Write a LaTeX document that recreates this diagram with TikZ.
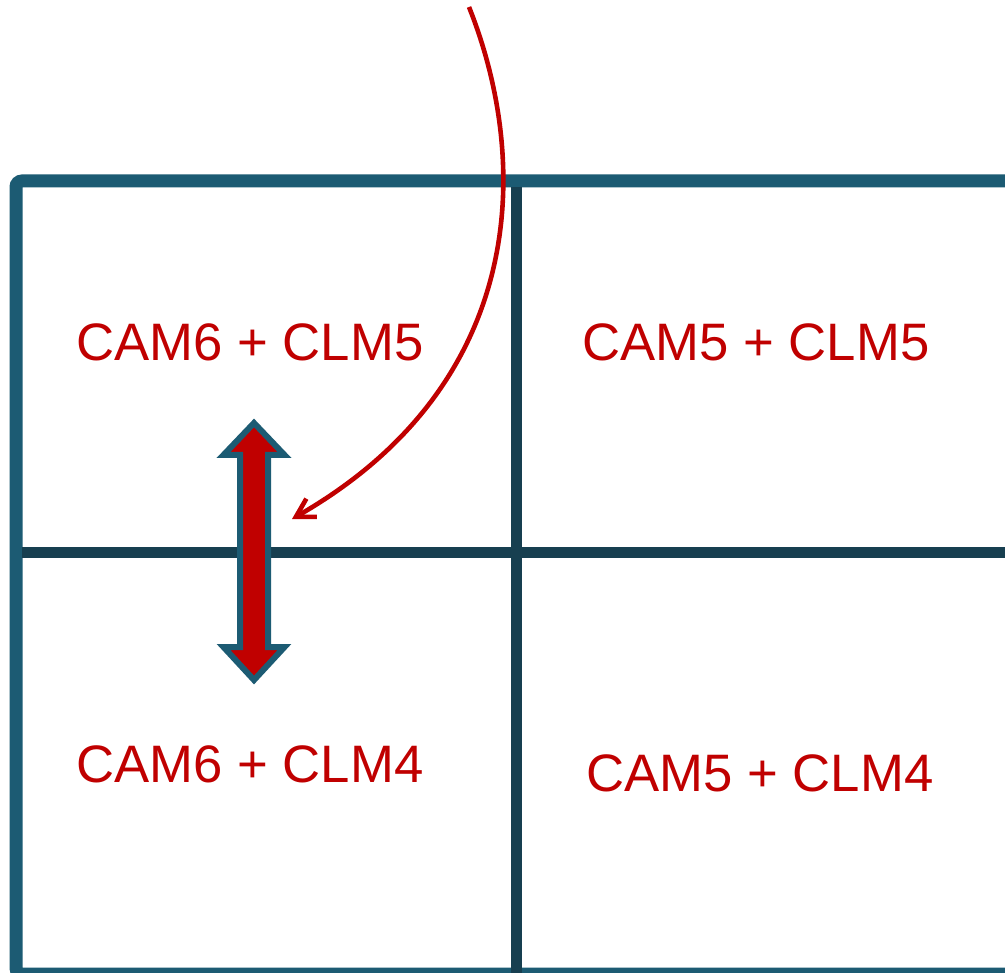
\documentclass[tikz,border=0pt]{standalone}
\usepackage{fontspec}
\setmainfont{Liberation Sans}
\usetikzlibrary{arrows.meta}
\definecolor{frameblue}{HTML}{1C5B73}
\definecolor{griddark}{HTML}{173F50}
\definecolor{camred}{HTML}{C00000}
\tikzset{
  frame/.style={draw=frameblue, line width=13pt, rounded corners=6pt},
  gridline/.style={draw=griddark, line width=11pt},
  label/.style={text=camred, font=\fontsize{52.7}{60}\selectfont, anchor=base, inner sep=0pt},
  bigarrow/.style={fill=camred, draw=frameblue, line width=6pt, line join=miter},
  curvearrow/.style={draw=camred, line width=4.6pt, -{Straight Barb[length=18pt,width=21pt,line width=4.6pt]}}
}
\begin{document}
\begin{tikzpicture}[x=1pt,y=-1pt]
\useasboundingbox (0,0) rectangle (1005,973);
\clip (0,0) rectangle (1005,973);
\fill[white] (0,0) rectangle (1005,973);
% frame
\draw[frame] (16,181) rectangle (1040,974);
% inner grid
\coordinate (vtop) at (516,187);
\coordinate (vbot) at (516,980);
\coordinate (hl) at (22,553);
\coordinate (hr) at (1010,553);
\draw[gridline] (vtop) -- (vbot);
\draw[gridline] (hl) -- (hr);
% labels
\node[label] (a) at (250,361) {CAM6 + CLM5};
\node[label] (b) at (756,361) {CAM5 + CLM5};
\node[label] (c) at (250,782) {CAM6 + CLM4};
\node[label] (d) at (760,791) {CAM5 + CLM4};
% double arrow
\draw[bigarrow] (254,423) -- (284.5,455) -- (268,455) -- (268,647) -- (284.5,647)
  -- (254,680) -- (223.5,647) -- (240,647) -- (240,455) -- (223.5,455) -- cycle;
\coordinate (arrowtarget) at (292,519);
\coordinate (curvestart) at (469,7);
% curved arrow
\draw[curvearrow] (curvestart) .. controls (532,165) and (526,385) .. (arrowtarget);
\end{tikzpicture}
\end{document}
